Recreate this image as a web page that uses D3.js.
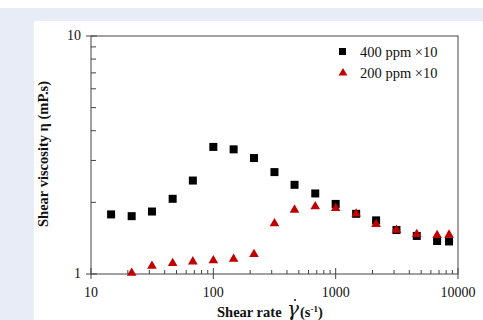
<!DOCTYPE html>
<html>
<head>
<meta charset="utf-8">
<script src="https://cdn.jsdelivr.net/npm/d3@7"></script>
<style>
  html, body { margin: 0; padding: 0; background: #fff; }
  svg { display: block; }
  text { font-family: "Liberation Serif", "Times New Roman", serif; fill: #111; }
</style>
</head>
<body>
<svg id="chart" width="483" height="320"></svg>
<script>
(function () {
  // shear rate (1/s) and viscosity (mPa.s)
  const rate400 = [14.6, 21.5, 31.5, 46.5, 68, 100, 146.5, 215, 316, 461, 681, 1000, 1470, 2140, 3140, 4600, 6750, 8450];
  const visc400 = [1.78, 1.75, 1.83, 2.07, 2.47, 3.42, 3.34, 3.07, 2.68, 2.37, 2.18, 1.97, 1.79, 1.68, 1.53, 1.445, 1.376, 1.37];
  const rate200 = [21.5, 31.5, 46.5, 68, 100, 146.5, 215, 316, 461, 681, 1000, 1470, 2140, 3140, 4600, 6750, 8450];
  const visc200 = [1.01, 1.08, 1.11, 1.127, 1.14, 1.156, 1.21, 1.63, 1.86, 1.92, 1.89, 1.79, 1.62, 1.53, 1.47, 1.455, 1.46];
  const xTicks = [10, 100, 1000, 10000];
  const yTicks = [1, 10];
  const seriesNames = ['400 ppm \u00d710', '200 ppm \u00d710'];

  const svg = d3.select('#chart');
  const left = 91, right = 458, top = 36, bottom = 274;
  const axisCol = '#444';

  // page background like the source figure
  svg.append('rect').attr('x', 0).attr('y', 8).attr('width', 483).attr('height', 312).attr('fill', '#e8ecf6');
  svg.append('rect').attr('x', 34).attr('y', 21).attr('width', 449).attr('height', 299).attr('fill', '#fff');

  const x = d3.scaleLog().domain([10, 10000]).range([left, right]);
  const y = d3.scaleLog().domain([1, 10]).range([bottom, top]);

  // frame
  svg.append('rect').attr('x', left).attr('y', top)
    .attr('width', right - left).attr('height', bottom - top)
    .attr('fill', 'none').attr('stroke', axisCol).attr('stroke-width', 1);

  // x minor ticks (inside) and major ticks (crossing)
  const xMinor = [];
  for (let d = 10; d < 10000; d *= 10) for (let k = 2; k <= 9; k++) xMinor.push(d * k);
  svg.append('g').selectAll('line').data(xMinor).join('line')
    .attr('x1', d => x(d)).attr('x2', d => x(d))
    .attr('y1', bottom).attr('y2', bottom - 4)
    .attr('stroke', axisCol);
  svg.append('g').selectAll('line').data(xTicks).join('line')
    .attr('x1', d => x(d)).attr('x2', d => x(d))
    .attr('y1', bottom + 5).attr('y2', bottom - 6)
    .attr('stroke', axisCol);
  svg.append('g').selectAll('text').data(xTicks).join('text')
    .attr('x', d => x(d)).attr('y', bottom + 23)
    .attr('text-anchor', 'middle').attr('font-size', 14)
    .text(d => d);

  // y ticks
  const yMinor = d3.range(2, 10);
  svg.append('g').selectAll('line').data(yMinor).join('line')
    .attr('x1', left).attr('x2', left + 5)
    .attr('y1', d => y(d)).attr('y2', d => y(d))
    .attr('stroke', axisCol);
  svg.append('g').selectAll('line').data(yTicks).join('line')
    .attr('x1', left - 5).attr('x2', left + 6)
    .attr('y1', d => y(d)).attr('y2', d => y(d))
    .attr('stroke', axisCol);
  svg.append('g').selectAll('text').data(yTicks).join('text')
    .attr('x', left - 10).attr('y', d => y(d) + 4)
    .attr('text-anchor', 'end').attr('font-size', 14)
    .text(d => d);

  // axis titles
  svg.append('text').attr('x', 217).attr('y', 317)
    .attr('font-size', 14.5).attr('font-weight', 'bold').text('Shear rate');
  svg.append('text').attr('x', 287).attr('y', 316)
    .attr('font-size', 20).attr('font-style', 'italic')
    .style('font-family', '"DejaVu Serif", serif').text('\u03b3');
  svg.append('circle').attr('cx', 295).attr('cy', 300).attr('r', 1).attr('fill', '#111');
  const xt = svg.append('text').attr('x', 300).attr('y', 317)
    .attr('font-size', 14.5).attr('font-weight', 'bold');
  xt.append('tspan').text('(s');
  xt.append('tspan').attr('font-size', 9).attr('dy', -5).text('-1');
  xt.append('tspan').attr('dy', 5).text(')');

  svg.append('text')
    .attr('transform', 'translate(48,154) rotate(-90)')
    .attr('text-anchor', 'middle').attr('font-size', 14.5).attr('font-weight', 'bold')
    .text('Shear viscosity \u03b7 (mP.s)');

  // series
  const data400 = rate400.map((r, i) => [r, visc400[i]]);
  const data200 = rate200.map((r, i) => [r, visc200[i]]);

  svg.append('g').selectAll('rect').data(data400).join('rect')
    .attr('x', d => x(d[0]) - 4).attr('y', d => y(d[1]) - 4)
    .attr('width', 8).attr('height', 8).attr('fill', '#000');

  const tri = d3.symbol().type(d3.symbolTriangle).size(40);
  svg.append('g').selectAll('path').data(data200).join('path')
    .attr('transform', d => `translate(${x(d[0])},${y(d[1])})`)
    .attr('d', tri).attr('fill', '#c00000');

  // legend
  const lg = svg.append('g');
  lg.append('rect').attr('x', 339).attr('y', 48).attr('width', 7).attr('height', 7).attr('fill', '#000');
  lg.append('path').attr('transform', 'translate(343,73)').attr('d', d3.symbol().type(d3.symbolTriangle).size(34)).attr('fill', '#c00000');
  lg.selectAll('text').data(seriesNames).join('text')
    .attr('x', 360).attr('y', (d, i) => 57 + i * 21)
    .attr('font-size', 14.5).text(d => d);
})();
</script>
</body>
</html>
